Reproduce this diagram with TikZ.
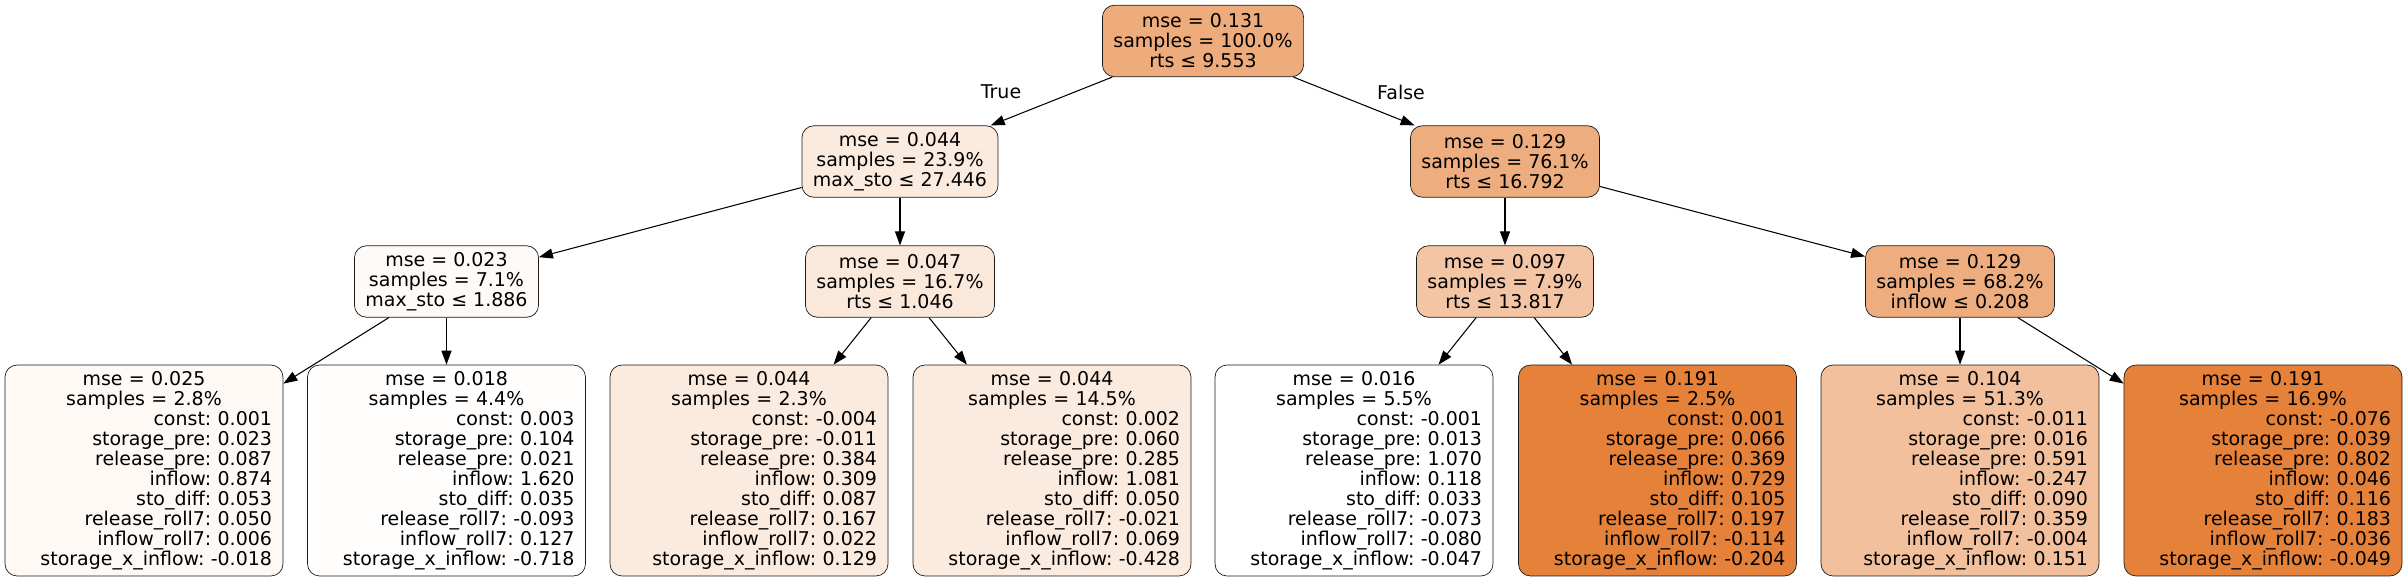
\documentclass[tikz,border=0pt]{standalone}
\usepackage{fontspec}
\setmainfont{DejaVu Sans}
\usetikzlibrary{arrows.meta}
\definecolor{hot}{HTML}{E58139}
\definecolor{ink}{HTML}{1A1A1A}
\newcommand{\treefont}{\fontsize{10.8}{11.38}\selectfont\frenchspacing}
\newcommand{\ctr}[1]{\makebox[\hsize]{#1}}

\begin{document}
\begin{tikzpicture}[x=0.02cm, y=-0.02cm, font=\treefont,
    splitbox/.style={draw=ink, rounded corners=0.24cm, inner xsep=0.22cm, inner ysep=0.05cm, minimum height=1.43cm, align=center},
    leafbox/.style={draw=ink, rounded corners=0.24cm, inner xsep=0.22cm, text width=5.12cm, minimum height=4.22cm, align=right},
    link/.style={-{Triangle[length=0.28cm,width=0.2cm]}, line width=0.6pt}]
    \useasboundingbox (0,0) rectangle (2407,581);
    % root and first split
    \node[splitbox, fill=hot!66!white] (root) at (1203,41) {mse = 0.131\\samples = 100.0\%\\rts ≤ 9.553};
    \node[splitbox, fill=hot!16!white] (n1) at (900,161.5) {mse = 0.044\\samples = 23.9\%\\max\_sto ≤ 27.446};
    \node[splitbox, fill=hot!65!white] (n2) at (1505,161.5) {mse = 0.129\\samples = 76.1\%\\rts ≤ 16.792};
    % second level
    \node[splitbox, fill=hot!4!white] (n3) at (446.5,281.5) {mse = 0.023\\samples = 7.1\%\\max\_sto ≤ 1.886};
    \node[splitbox, fill=hot!18!white] (n4) at (900,281.5) {mse = 0.047\\samples = 16.7\%\\rts ≤ 1.046};
    \node[splitbox, fill=hot!46!white] (n5) at (1505,281.5) {mse = 0.097\\samples = 7.9\%\\rts ≤ 13.817};
    \node[splitbox, fill=hot!65!white] (n6) at (1960,281.5) {mse = 0.129\\samples = 68.2\%\\inflow ≤ 0.208};
    % leaves
    \node[leafbox, fill=hot!5!white] (l1) at (144,470.5) {\ctr{mse = 0.025}\\\ctr{samples = 2.8\%}\\const: 0.001\\storage\_pre: 0.023\\release\_pre: 0.087\\inflow: 0.874\\sto\_diff: 0.053\\release\_roll7: 0.050\\inflow\_roll7: 0.006\\storage\_x\_inflow: -0.018};
    \node[leafbox, fill=hot!1!white] (l2) at (446.5,470.5) {\ctr{mse = 0.018}\\\ctr{samples = 4.4\%}\\const: 0.003\\storage\_pre: 0.104\\release\_pre: 0.021\\inflow: 1.620\\sto\_diff: 0.035\\release\_roll7: -0.093\\inflow\_roll7: 0.127\\storage\_x\_inflow: -0.718};
    \node[leafbox, fill=hot!16!white] (l3) at (749,470.5) {\ctr{mse = 0.044}\\\ctr{samples = 2.3\%}\\const: -0.004\\storage\_pre: -0.011\\release\_pre: 0.384\\inflow: 0.309\\sto\_diff: 0.087\\release\_roll7: 0.167\\inflow\_roll7: 0.022\\storage\_x\_inflow: 0.129};
    \node[leafbox, fill=hot!16!white] (l4) at (1052,470.5) {\ctr{mse = 0.044}\\\ctr{samples = 14.5\%}\\const: 0.002\\storage\_pre: 0.060\\release\_pre: 0.285\\inflow: 1.081\\sto\_diff: 0.050\\release\_roll7: -0.021\\inflow\_roll7: 0.069\\storage\_x\_inflow: -0.428};
    \node[leafbox, fill=white] (l5) at (1354,470.5) {\ctr{mse = 0.016}\\\ctr{samples = 5.5\%}\\const: -0.001\\storage\_pre: 0.013\\release\_pre: 1.070\\inflow: 0.118\\sto\_diff: 0.033\\release\_roll7: -0.073\\inflow\_roll7: -0.080\\storage\_x\_inflow: -0.047};
    \node[leafbox, fill=hot] (l6) at (1657.5,470.5) {\ctr{mse = 0.191}\\\ctr{samples = 2.5\%}\\const: 0.001\\storage\_pre: 0.066\\release\_pre: 0.369\\inflow: 0.729\\sto\_diff: 0.105\\release\_roll7: 0.197\\inflow\_roll7: -0.114\\storage\_x\_inflow: -0.204};
    \node[leafbox, fill=hot!50!white] (l7) at (1960,470.5) {\ctr{mse = 0.104}\\\ctr{samples = 51.3\%}\\const: -0.011\\storage\_pre: 0.016\\release\_pre: 0.591\\inflow: -0.247\\sto\_diff: 0.090\\release\_roll7: 0.359\\inflow\_roll7: -0.004\\storage\_x\_inflow: 0.151};
    \node[leafbox, fill=hot] (l8) at (2263,470.5) {\ctr{mse = 0.191}\\\ctr{samples = 16.9\%}\\const: -0.076\\storage\_pre: 0.039\\release\_pre: 0.802\\inflow: 0.046\\sto\_diff: 0.116\\release\_roll7: 0.183\\inflow\_roll7: -0.036\\storage\_x\_inflow: -0.049};
    % connectors
    \draw[link] (root) -- (n1);
    \draw[link] (root) -- (n2);
    \node (true) at (1001,92) {True};
    \node (false) at (1401,92) {False};
    \draw[link] (n1) -- (n3);
    \draw[link] (n1) -- (n4);
    \draw[link] (n2) -- (n5);
    \draw[link] (n2) -- (n6);
    \draw[link] (n3) -- (l1);
    \draw[link] (n3) -- (l2);
    \draw[link] (n4) -- (l3);
    \draw[link] (n4) -- (l4);
    \draw[link] (n5) -- (l5);
    \draw[link] (n5) -- (l6);
    \draw[link] (n6) -- (l7);
    \draw[link] (n6) -- (l8);
\end{tikzpicture}
\end{document}
